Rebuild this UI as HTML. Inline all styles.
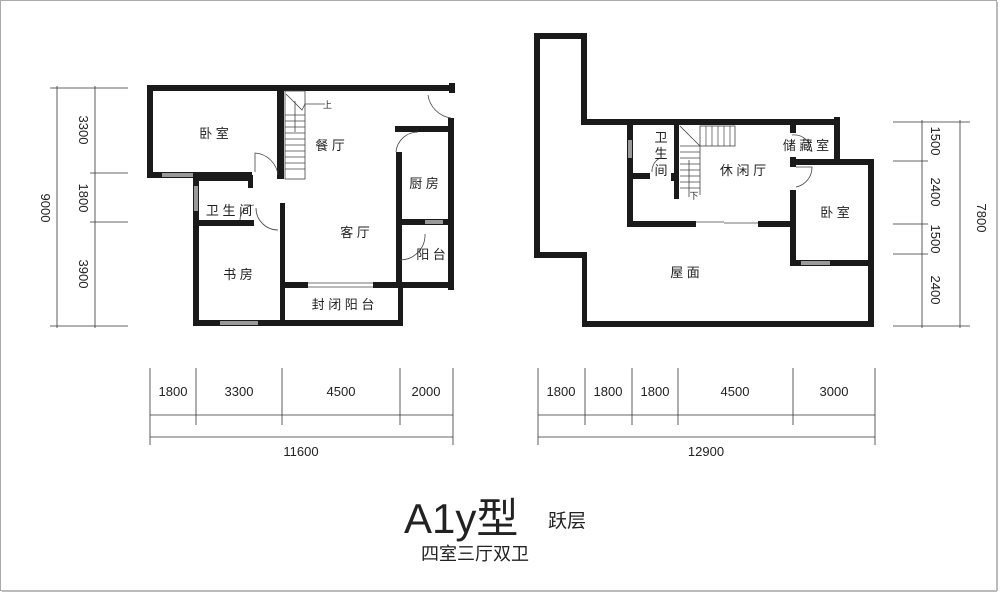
<!DOCTYPE html>
<html><head><meta charset="utf-8"><style>
html,body{margin:0;padding:0;background:#fff;}
svg{display:block;}
text{font-family:"Liberation Sans","Noto Sans CJK SC",sans-serif;fill:#222;}
</style></head><body>
<svg width="1000" height="594" viewBox="0 0 1000 594" xmlns="http://www.w3.org/2000/svg">
<rect x="0.5" y="0.5" width="996" height="590" fill="#fff" stroke="#aaa" stroke-width="1"/>
<line x1="997" y1="2" x2="997" y2="591" stroke="#bbb" stroke-width="2"/>
<line x1="2" y1="591" x2="997" y2="591" stroke="#bbb" stroke-width="2"/>

<!-- LEFT PLAN -->
<g fill="#1a1a1a">
<rect x="147" y="85" width="306" height="6"/>
<rect x="449" y="83" width="6" height="10"/>
<rect x="147" y="85" width="6" height="93"/>
<rect x="147" y="172" width="105" height="6"/>
<rect x="277" y="91" width="7" height="88"/>
<rect x="193" y="175" width="6" height="151"/>
<rect x="193" y="175" width="60" height="6"/>
<rect x="248" y="175" width="5" height="13"/>
<rect x="193" y="220" width="61" height="6"/>
<rect x="280" y="203" width="5" height="123"/>
<rect x="193" y="320" width="210" height="6"/>
<rect x="283" y="282" width="25" height="6"/>
<rect x="373" y="282" width="31" height="6"/>
<rect x="398" y="282" width="5" height="44"/>
<rect x="396" y="152" width="6" height="136"/>
<rect x="395" y="126" width="58" height="6"/>
<rect x="448" y="118" width="6" height="172"/>
<rect x="400" y="219" width="52" height="6"/>
<rect x="400" y="282" width="54" height="6"/>
</g>
<g fill="#999">
<rect x="162" y="173" width="31" height="4"/>
<rect x="194" y="186" width="4" height="25"/>
<rect x="220" y="321" width="38" height="4"/>
<rect x="425" y="220" width="18" height="4"/>
</g>
<g stroke="#444" stroke-width="0.8" fill="none">
<line x1="308" y1="283" x2="373" y2="283"/><line x1="308" y1="287" x2="373" y2="287"/>
<path d="M451 118 A27 27 0 0 1 428 95"/>
<path d="M396 152 A22 22 0 0 1 418 132"/>
<path d="M278 175 A25 25 0 0 0 255 153 L255 172"/>
<path d="M256 208 A22 22 0 0 0 278 230"/>
<path d="M240 220 A15 15 0 0 1 254 205"/>
<path d="M400 260 A25 25 0 0 0 425 234"/>
<rect x="285" y="91" width="20" height="88"/>
<path d="M286 94 L302 110 L305 104 L325 104"/>
<line x1="295" y1="101" x2="295" y2="132"/>
</g>
<g stroke="#444" stroke-width="0.7">
<line x1="285" y1="115" x2="305" y2="115"/><line x1="285" y1="121" x2="305" y2="121"/>
<line x1="285" y1="127" x2="305" y2="127"/><line x1="285" y1="133" x2="305" y2="133"/>
<line x1="285" y1="139" x2="305" y2="139"/><line x1="285" y1="145" x2="305" y2="145"/>
<line x1="285" y1="151" x2="305" y2="151"/><line x1="285" y1="157" x2="305" y2="157"/>
<line x1="285" y1="163" x2="305" y2="163"/><line x1="285" y1="169" x2="305" y2="169"/>
</g>
<g font-size="13" text-anchor="middle">
<text x="323" y="108" font-size="9" text-anchor="start">上</text>
<text x="214" y="138">卧 室</text>
<text x="330" y="150">餐 厅</text>
<text x="424" y="188">厨 房</text>
<text x="229" y="215">卫 生 间</text>
<text x="355" y="237">客 厅</text>
<text x="431" y="259">阳 台</text>
<text x="238" y="279">书 房</text>
<text x="343" y="309">封 闭 阳 台</text>
</g>

<!-- RIGHT PLAN -->
<g fill="#1a1a1a">
<rect x="534" y="33" width="53" height="6"/>
<rect x="534" y="33" width="6" height="225"/>
<rect x="581" y="33" width="6" height="92"/>
<rect x="581" y="119" width="259" height="6"/>
<rect x="834" y="117" width="6" height="48"/>
<rect x="790" y="159" width="84" height="6"/>
<rect x="868" y="159" width="6" height="168"/>
<rect x="582" y="321" width="292" height="6"/>
<rect x="582" y="252" width="5" height="75"/>
<rect x="534" y="252" width="53" height="6"/>
<rect x="627" y="125" width="6" height="102"/>
<rect x="627" y="221" width="69" height="6"/>
<rect x="758" y="221" width="38" height="6"/>
<rect x="790" y="125" width="6" height="8"/>
<rect x="790" y="157" width="6" height="10"/>
<rect x="790" y="190" width="6" height="76"/>
<rect x="790" y="260" width="78" height="6"/>
<rect x="674" y="125" width="5" height="74"/>
<rect x="633" y="173" width="17" height="6"/>
<rect x="671" y="173" width="4" height="8"/>
</g>
<g fill="#999">
<rect x="628" y="140" width="4" height="18"/>
<rect x="801" y="261" width="29" height="4"/>
</g>
<g stroke="#444" stroke-width="0.8" fill="none">
<line x1="696" y1="222" x2="724" y2="222"/><line x1="724" y1="223" x2="758" y2="223"/>
<rect x="700" y="126" width="35" height="20"/>
<line x1="680" y1="146" x2="700" y2="146"/>
<line x1="700" y1="146" x2="700" y2="195"/>
<line x1="680" y1="126" x2="700" y2="146"/>
<line x1="689" y1="160" x2="689" y2="197"/>
<path d="M796 187 A20 20 0 0 0 812 167 L796 167"/>
<path d="M792 135 A18 18 0 0 1 812 152"/>
<path d="M652 172 A15 15 0 0 1 660 158"/>
</g>
<g stroke="#444" stroke-width="0.7">
<line x1="706" y1="126" x2="706" y2="146"/><line x1="712" y1="126" x2="712" y2="146"/>
<line x1="718" y1="126" x2="718" y2="146"/><line x1="724" y1="126" x2="724" y2="146"/>
<line x1="730" y1="126" x2="730" y2="146"/>
<line x1="680" y1="152" x2="700" y2="152"/><line x1="680" y1="158" x2="700" y2="158"/>
<line x1="680" y1="164" x2="700" y2="164"/><line x1="680" y1="170" x2="700" y2="170"/>
<line x1="680" y1="176" x2="700" y2="176"/><line x1="680" y1="182" x2="700" y2="182"/>
<line x1="680" y1="188" x2="700" y2="188"/>
</g>
<g font-size="13" text-anchor="middle">
<text x="661" y="142">卫</text>
<text x="661" y="158">生</text>
<text x="661" y="175">间</text>
<text x="694" y="199" font-size="9">下</text>
<text x="743" y="175">休 闲 厅</text>
<text x="806" y="150">储 藏 室</text>
<text x="835" y="217">卧 室</text>
<text x="685" y="277">屋 面</text>
</g>

<!-- DIMENSIONS -->
<g stroke="#333" stroke-width="0.8">
<!-- left vertical -->
<line x1="57" y1="86" x2="57" y2="328"/>
<line x1="95" y1="86" x2="95" y2="328"/>
<line x1="50" y1="88" x2="128" y2="88"/>
<line x1="90" y1="173" x2="128" y2="173"/>
<line x1="90" y1="222" x2="128" y2="222"/>
<line x1="50" y1="326" x2="128" y2="326"/>
<!-- right vertical -->
<line x1="922" y1="120" x2="922" y2="328"/>
<line x1="960" y1="120" x2="960" y2="328"/>
<line x1="893" y1="122" x2="970" y2="122"/>
<line x1="893" y1="161" x2="928" y2="161"/>
<line x1="893" y1="224" x2="928" y2="224"/>
<line x1="893" y1="254" x2="928" y2="254"/>
<line x1="893" y1="326" x2="970" y2="326"/>
<!-- bottom left -->
<line x1="150" y1="415" x2="453" y2="415"/>
<line x1="150" y1="437" x2="453" y2="437"/>
<line x1="150" y1="368" x2="150" y2="445"/>
<line x1="196" y1="368" x2="196" y2="425"/>
<line x1="282" y1="368" x2="282" y2="425"/>
<line x1="400" y1="368" x2="400" y2="425"/>
<line x1="453" y1="368" x2="453" y2="445"/>
<!-- bottom right -->
<line x1="538" y1="415" x2="875" y2="415"/>
<line x1="538" y1="437" x2="875" y2="437"/>
<line x1="538" y1="368" x2="538" y2="445"/>
<line x1="585" y1="368" x2="585" y2="425"/>
<line x1="632" y1="368" x2="632" y2="425"/>
<line x1="678" y1="368" x2="678" y2="425"/>
<line x1="793" y1="368" x2="793" y2="425"/>
<line x1="875" y1="368" x2="875" y2="445"/>
</g>
<g font-size="13" text-anchor="middle">
<text transform="translate(79,130) rotate(90)">3300</text>
<text transform="translate(79,198) rotate(90)">1800</text>
<text transform="translate(79,274) rotate(90)">3900</text>
<text transform="translate(41,208) rotate(90)">9000</text>
<text transform="translate(931,141) rotate(90)">1500</text>
<text transform="translate(931,192) rotate(90)">2400</text>
<text transform="translate(931,239) rotate(90)">1500</text>
<text transform="translate(931,290) rotate(90)">2400</text>
<text transform="translate(977,218) rotate(90)">7800</text>
<text x="173" y="396">1800</text>
<text x="239" y="396">3300</text>
<text x="341" y="396">4500</text>
<text x="426" y="396">2000</text>
<text x="301" y="456">11600</text>
<text x="561" y="396">1800</text>
<text x="608" y="396">1800</text>
<text x="655" y="396">1800</text>
<text x="735" y="396">4500</text>
<text x="834" y="396">3000</text>
<text x="706" y="456">12900</text>
</g>

<!-- TITLE -->
<text x="404" y="533" font-size="42">A1y型</text>
<text x="548" y="527" font-size="19">跃层</text>
<text x="421" y="560" font-size="18">四室三厅双卫</text>
</svg>
</body></html>
